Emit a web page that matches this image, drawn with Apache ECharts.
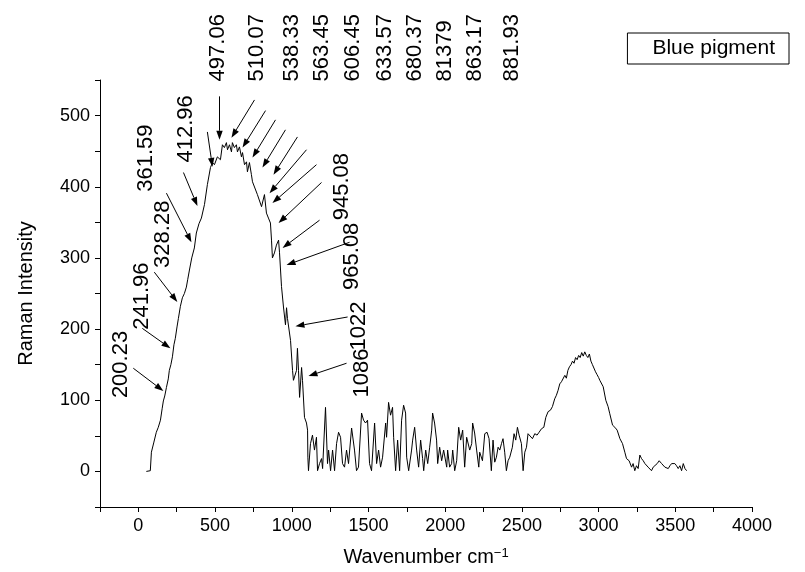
<!DOCTYPE html>
<html>
<head>
<meta charset="utf-8">
<script src="https://cdn.jsdelivr.net/npm/echarts@6/dist/echarts.min.js"></script>
<style>
html,body{margin:0;padding:0;background:#fff;}
#chart{width:805px;height:572px;}
</style>
</head>
<body>
<div id="chart"></div>
<script>
// ---- spectrum data ----
const wavenumber = [
  52,65,78,85,100,117,130,144,155,163,172,183,195,202,212,222,232,241,252,261,274,287,300,313,322,333,348,365,378,395,411,431,450,470,476,483,496,515,535,548,561,574,581,594,607,613,626,639,646,659,672,679,692,705,711,724,737,744,757,776,803,822,835,848,861,868,874,887,900,914,920,933,946,959,966,972,985,992,1005,1011,1031,1037,1044,1051,1064,1070,1083,1096,1103,1105,1109,
  1122,1135,1148,1161,1168,1181,1194,1201,1220,1233,1240,1253,1266,1279,1292,1305,1318,1331,1344,1357,1370,1390,1396,1409,1422,1435,1455,1468,1481,1494,1507,1520,1540,1553,1566,1579,1592,1612,1618,1631,1644,1657,1664,1677,1690,1703,1716,1729,1742,1749,1762,1781,1788,1801,1814,1827,1840,1853,1860,1873,1886,1899,1912,1918,1931,1944,1951,1964,1977,1990,2010,2016,2029,2042,2049,2062,2075,2088,2101,2114,2127,2140,2160,2173,2179,2192,2205,2219,
  2225,2243,2258,2273,2286,2301,2312,2323,2334,2345,2356,2367,2377,2388,2399,2410,2421,2438,2449,2460,2471,2482,2497,2508,2519,2530,2540,2551,2569,2584,2599,2612,2628,2643,2656,2671,2686,2699,2714,2725,2736,2747,2758,2769,
  2780,2790,2800,2810,2820,2830,2840,2850,2860,2870,2880,2890,2900,2910,2920,2930,2940,2950,2960,2970,2980,2990,3000,
  3008,3030,3047,3062,3073,3091,3106,3121,3139,3156,3171,3182,3199,3215,3225,3236,3247,3258,3269,3280,3291,3302,3313,3323,3334,3345,3356,3367,3382,3395,3411,3421,3432,3443,3454,3465,3476,3487,3497,3508,3519,3530,3541,3552,3563,3574
];
const intensity = [
  0,0,1,27,40,55,62,72,88,99,106,118,130,142,150,161,178,187,203,215,232,244,250,259,270,283,300,314,335,348,356,375,403,427,427,434,431,442,438,459,455,462,452,459,449,462,455,459,449,456,442,448,431,435,421,434,417,407,405,389,372,389,363,356,349,325,300,307,318,325,308,260,231,206,230,215,213,184,142,128,142,173,142,104,146,128,76,68,58,20,1,
  39,51,30,48,1,11,18,4,90,11,30,1,30,1,39,55,48,11,6,30,11,61,62,30,1,6,82,72,68,72,11,1,68,11,30,6,20,68,48,97,79,90,48,1,44,1,72,93,82,20,1,30,44,62,30,6,44,18,1,30,11,34,58,82,68,44,11,34,15,30,6,30,6,11,30,1,15,62,44,58,6,48,30,39,68,54,30,6,
  27,15,53,55,46,1,44,13,20,34,30,39,46,27,1,15,20,34,53,44,62,51,39,1,27,34,53,55,46,53,51,55,60,62,76,84,86,91,102,107,114,123,126,128,
  135,131,142,147,150,155,152,160,157,163,160,167,162,168,163,160,165,155,150,148,140,136,132,
  128,119,100,91,81,65,62,58,46,39,27,18,15,6,11,1,8,4,23,18,15,11,13,6,4,1,6,4,11,15,11,13,6,8,4,8,11,13,11,8,4,8,1,11,4,1
];

// ---- axis ticks ----
const xTickLabels = [0,500,1000,1500,2000,2500,3000,3500,4000];
const yTickLabels = [0,100,200,300,400,500];

// ---- peak annotations (data units) ----
const annText = ['200.23','241.96','328.28','361.59','412.96','497.06','510.07','538.33','563.45','606.45','633.57','680.37','81379','863.17','881.93','945.08','965.08','1022','1086'];
const annX = [-111,26,157,52,307,522,776,998,1194,1396,1605,1801,1997,2192,2434,1325,1390,1435,1455];
const annY = [103,199,286,393,434,548,548,548,548,548,548,548,548,548,548,353,255,170,104];
const arrowFromX = [-33,26,104,183,294,450,529,757,829,894,959,1037,1096,1161,1194,1181,1377,1364,1357];
const arrowFromY = [145,201,280,391,420,477,527,522,507,494,480,470,452,431,406,353,322,217,152];
const arrowToX = [163,209,254,346,385,483,529,607,679,744,809,881,855,874,914,940,966,1024,1109];
const arrowToY = [113,173,238,322,373,428,466,469,455,441,427,417,391,377,349,314,290,204,134];

const FONT = '"Liberation Sans", Arial, sans-serif';
const chart = echarts.init(document.getElementById('chart'), null, {renderer:'canvas'});

const option = {
  animation: false,
  backgroundColor: '#fff',
  grid: {left: 100, right: 53, top: 80, bottom: 65, containLabel: false},
  legend: {
    data: ['Blue pigment'], right: 16, top: 33,
    icon: 'none', itemWidth: 0, itemHeight: 10,
    borderColor: '#000', borderWidth: 1, borderRadius: 0,
    padding: [5, 14, 5, 20],
    textStyle: {fontFamily: FONT, fontSize: 21, color: '#000'}
  },
  xAxis: {
    type: 'value', min: -250, max: 4000, interval: 250,
    name: '{a|Wavenumber cm}{s|−1}', nameLocation: 'middle', nameGap: 40,
    nameTextStyle: {rich: {
      a: {fontFamily: FONT, fontSize: 20, color: '#000'},
      s: {fontFamily: FONT, fontSize: 13, color: '#000', verticalAlign: 'top'}
    }},
    splitLine: {show: false},
    axisLine: {onZero: false, lineStyle: {color: '#000', width: 1}},
    axisTick: {inside: false, length: 5, lineStyle: {color: '#000'}},
    axisLabel: {
      margin: 10, fontFamily: FONT, fontSize: 18, color: '#000',
      formatter: v => xTickLabels.indexOf(v) >= 0 ? String(v) : ''
    }
  },
  yAxis: {
    type: 'value', min: -50, max: 550, interval: 50,
    name: 'Raman Intensity', nameLocation: 'middle', nameGap: 64,
    nameTextStyle: {fontFamily: FONT, fontSize: 20, color: '#000'},
    splitLine: {show: false},
    axisLine: {onZero: false, lineStyle: {color: '#000', width: 1}},
    axisTick: {inside: false, length: 5, lineStyle: {color: '#000'}},
    axisLabel: {
      margin: 10, fontFamily: FONT, fontSize: 18, color: '#000',
      formatter: v => yTickLabels.indexOf(v) >= 0 ? String(v) : ''
    }
  },
  series: [{
    name: 'Blue pigment', type: 'line', showSymbol: false, symbol: 'none',
    lineStyle: {color: '#000', width: 1}, itemStyle: {color: '#000'},
    data: wavenumber.map((w, i) => [w, intensity[i]])
  }]
};
chart.setOption(option);

// annotations drawn through the chart's own coordinate conversion
const gfx = [];
for (let i = 0; i < arrowFromX.length; i++) {
  const p0 = chart.convertToPixel({gridIndex: 0}, [arrowFromX[i], arrowFromY[i]]);
  const p1 = chart.convertToPixel({gridIndex: 0}, [arrowToX[i], arrowToY[i]]);
  const dx = p1[0] - p0[0], dy = p1[1] - p0[1];
  const len = Math.sqrt(dx*dx + dy*dy);
  const ux = dx/len, uy = dy/len;
  const hl = 9, hw = 3.2;
  const bx = p1[0] - ux*hl, by = p1[1] - uy*hl;
  gfx.push({type: 'line', silent: true, shape: {x1: p0[0], y1: p0[1], x2: bx, y2: by}, style: {stroke: '#000', lineWidth: 1}});
  gfx.push({type: 'polygon', silent: true, shape: {points: [[p1[0], p1[1]], [bx - uy*hw, by + ux*hw], [bx + uy*hw, by - ux*hw]]}, style: {fill: '#000'}});
}
for (let i = 0; i < annText.length; i++) {
  const p = chart.convertToPixel({gridIndex: 0}, [annX[i], annY[i]]);
  gfx.push({type: 'text', silent: true, x: p[0], y: p[1], rotation: Math.PI/2,
    style: {text: annText[i], font: '22px ' + FONT, fill: '#000', textAlign: 'left', textVerticalAlign: 'middle'}});
}
chart.setOption({graphic: gfx});
</script>
</body>
</html>
